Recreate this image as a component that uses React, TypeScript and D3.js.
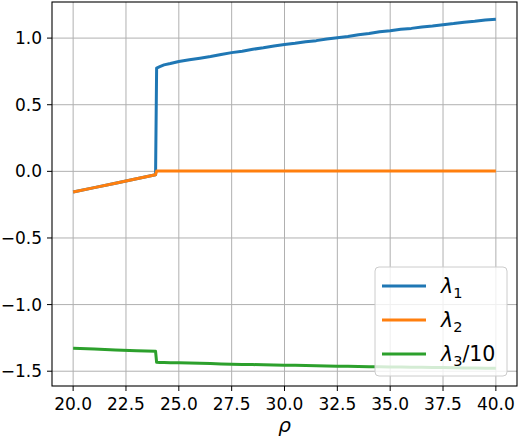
import React from "react";
import * as d3 from "d3";

const width = 519;
const height = 437;
const margin = { top: 2, right: 2, bottom: 51, left: 52 };

// rho sample points and the three exponents
const rho = [20, 21, 22, 23, 23.9, 23.95, 24.1, 24.3, 24.6, 25, 25.5, 26, 26.5, 27, 27.5, 28, 28.5, 29, 29.5, 30,
  30.5, 31, 31.5, 32, 32.5, 33, 33.5, 34, 34.5, 35, 35.5, 36, 36.5, 37, 37.5, 38, 38.5, 39, 39.5, 40];
const lambda1 = [-0.155, -0.122, -0.089, -0.055, -0.025, 0.775, 0.786, 0.799, 0.809, 0.825, 0.837, 0.849, 0.862,
  0.877, 0.891, 0.902, 0.916, 0.927, 0.941, 0.952, 0.961, 0.973, 0.981, 0.994, 1.003, 1.012, 1.025, 1.034, 1.047,
  1.056, 1.067, 1.073, 1.084, 1.091, 1.101, 1.109, 1.119, 1.126, 1.136, 1.142];
const lambda2 = [-0.155, -0.122, -0.089, -0.055, -0.025, 0.002, 0.002, 0.002, 0.002, 0.002, 0.002, 0.002, 0.002,
  0.002, 0.002, 0.002, 0.002, 0.002, 0.002, 0.002, 0.002, 0.002, 0.002, 0.002, 0.002, 0.002, 0.002, 0.002, 0.002,
  0.002, 0.002, 0.002, 0.002, 0.002, 0.002, 0.002, 0.002, 0.002, 0.002, 0.002];
const lambda3 = [-1.328, -1.334, -1.340, -1.346, -1.351, -1.433, -1.434, -1.435, -1.436, -1.437, -1.439, -1.441,
  -1.443, -1.445, -1.447, -1.449, -1.450, -1.452, -1.453, -1.455, -1.456, -1.458, -1.459, -1.461, -1.462, -1.463,
  -1.464, -1.466, -1.467, -1.468, -1.469, -1.470, -1.471, -1.472, -1.473, -1.474, -1.475, -1.476, -1.477, -1.478];

const xTicks = [20, 22.5, 25, 27.5, 30, 32.5, 35, 37.5, 40];
const yTicks = [-1.5, -1.0, -0.5, 0.0, 0.5, 1.0];

const series = [
  { name: "1", suffix: "", values: lambda1, color: "#1f77b4" },
  { name: "2", suffix: "", values: lambda2, color: "#ff7f0e" },
  { name: "3", suffix: "/10", values: lambda3, color: "#2ca02c" },
];

export default function App() {
  const x = d3.scaleLinear().domain([19, 41]).range([margin.left, width - margin.right]);
  const y = d3.scaleLinear().domain([-1.611, 1.271]).range([height - margin.bottom, margin.top]);
  const line = d3.line<number>().x((d, i) => x(rho[i])).y(d => y(d));
  const fmt = (v: number) => v.toFixed(1).replace("-", "\u2212");
  const font = "DejaVu Sans";

  // legend
  const lg = { x: 375, y: 267, w: 132, h: 109 };
  const rowY = [286, 320, 354];

  return (
    <svg width={width} height={height} style={{ position: "absolute", left: 0, top: 0 }} fontFamily={font}>
      <rect width={width} height={height} fill="white" />
      <g stroke="#b0b0b0" strokeWidth={1}>
        {xTicks.map(t => <line key={"gx" + t} x1={x(t)} x2={x(t)} y1={y.range()[1]} y2={y.range()[0]} />)}
        {yTicks.map(t => <line key={"gy" + t} x1={x.range()[0]} x2={x.range()[1]} y1={y(t)} y2={y(t)} />)}
      </g>
      {series.map(s => (
        <path key={s.name} d={line(s.values) || ""} fill="none" stroke={s.color} strokeWidth={3} strokeLinejoin="round" />
      ))}
      <rect x={x.range()[0]} y={y.range()[1]} width={x.range()[1] - x.range()[0]} height={y.range()[0] - y.range()[1]}
        fill="none" stroke="black" strokeWidth={1.1} />
      {xTicks.map(t => (
        <g key={"tx" + t}>
          <line x1={x(t)} x2={x(t)} y1={y.range()[0]} y2={y.range()[0] + 5} stroke="black" />
          <text x={x(t)} y={y.range()[0] + 24} fontSize={17} textAnchor="middle">{fmt(t)}</text>
        </g>
      ))}
      {yTicks.map(t => (
        <g key={"ty" + t}>
          <line x1={x.range()[0] - 5} x2={x.range()[0]} y1={y(t)} y2={y(t)} stroke="black" />
          <text x={x.range()[0] - 10} y={y(t) + 6} fontSize={17} textAnchor="end">{fmt(t)}</text>
        </g>
      ))}
      <text x={(x.range()[0] + x.range()[1]) / 2} y={432} fontSize={20} fontStyle="italic" textAnchor="middle">ρ</text>
      <g>
        <rect x={lg.x} y={lg.y} width={lg.w} height={lg.h} rx={4} fill="white" fillOpacity={0.8} stroke="#cccccc" />
        {series.map((s, i) => (
          <g key={"lg" + s.name}>
            <line x1={382} x2={426} y1={rowY[i]} y2={rowY[i]} stroke={s.color} strokeWidth={3} />
            <text x={441} y={rowY[i] + 7} fontSize={20.5}>
              <tspan fontStyle="italic">λ</tspan>
              <tspan fontSize={14.5} dy={5}>{s.name}</tspan>
              {s.suffix && <tspan dy={-5}>{s.suffix}</tspan>}
            </text>
          </g>
        ))}
      </g>
    </svg>
  );
}
